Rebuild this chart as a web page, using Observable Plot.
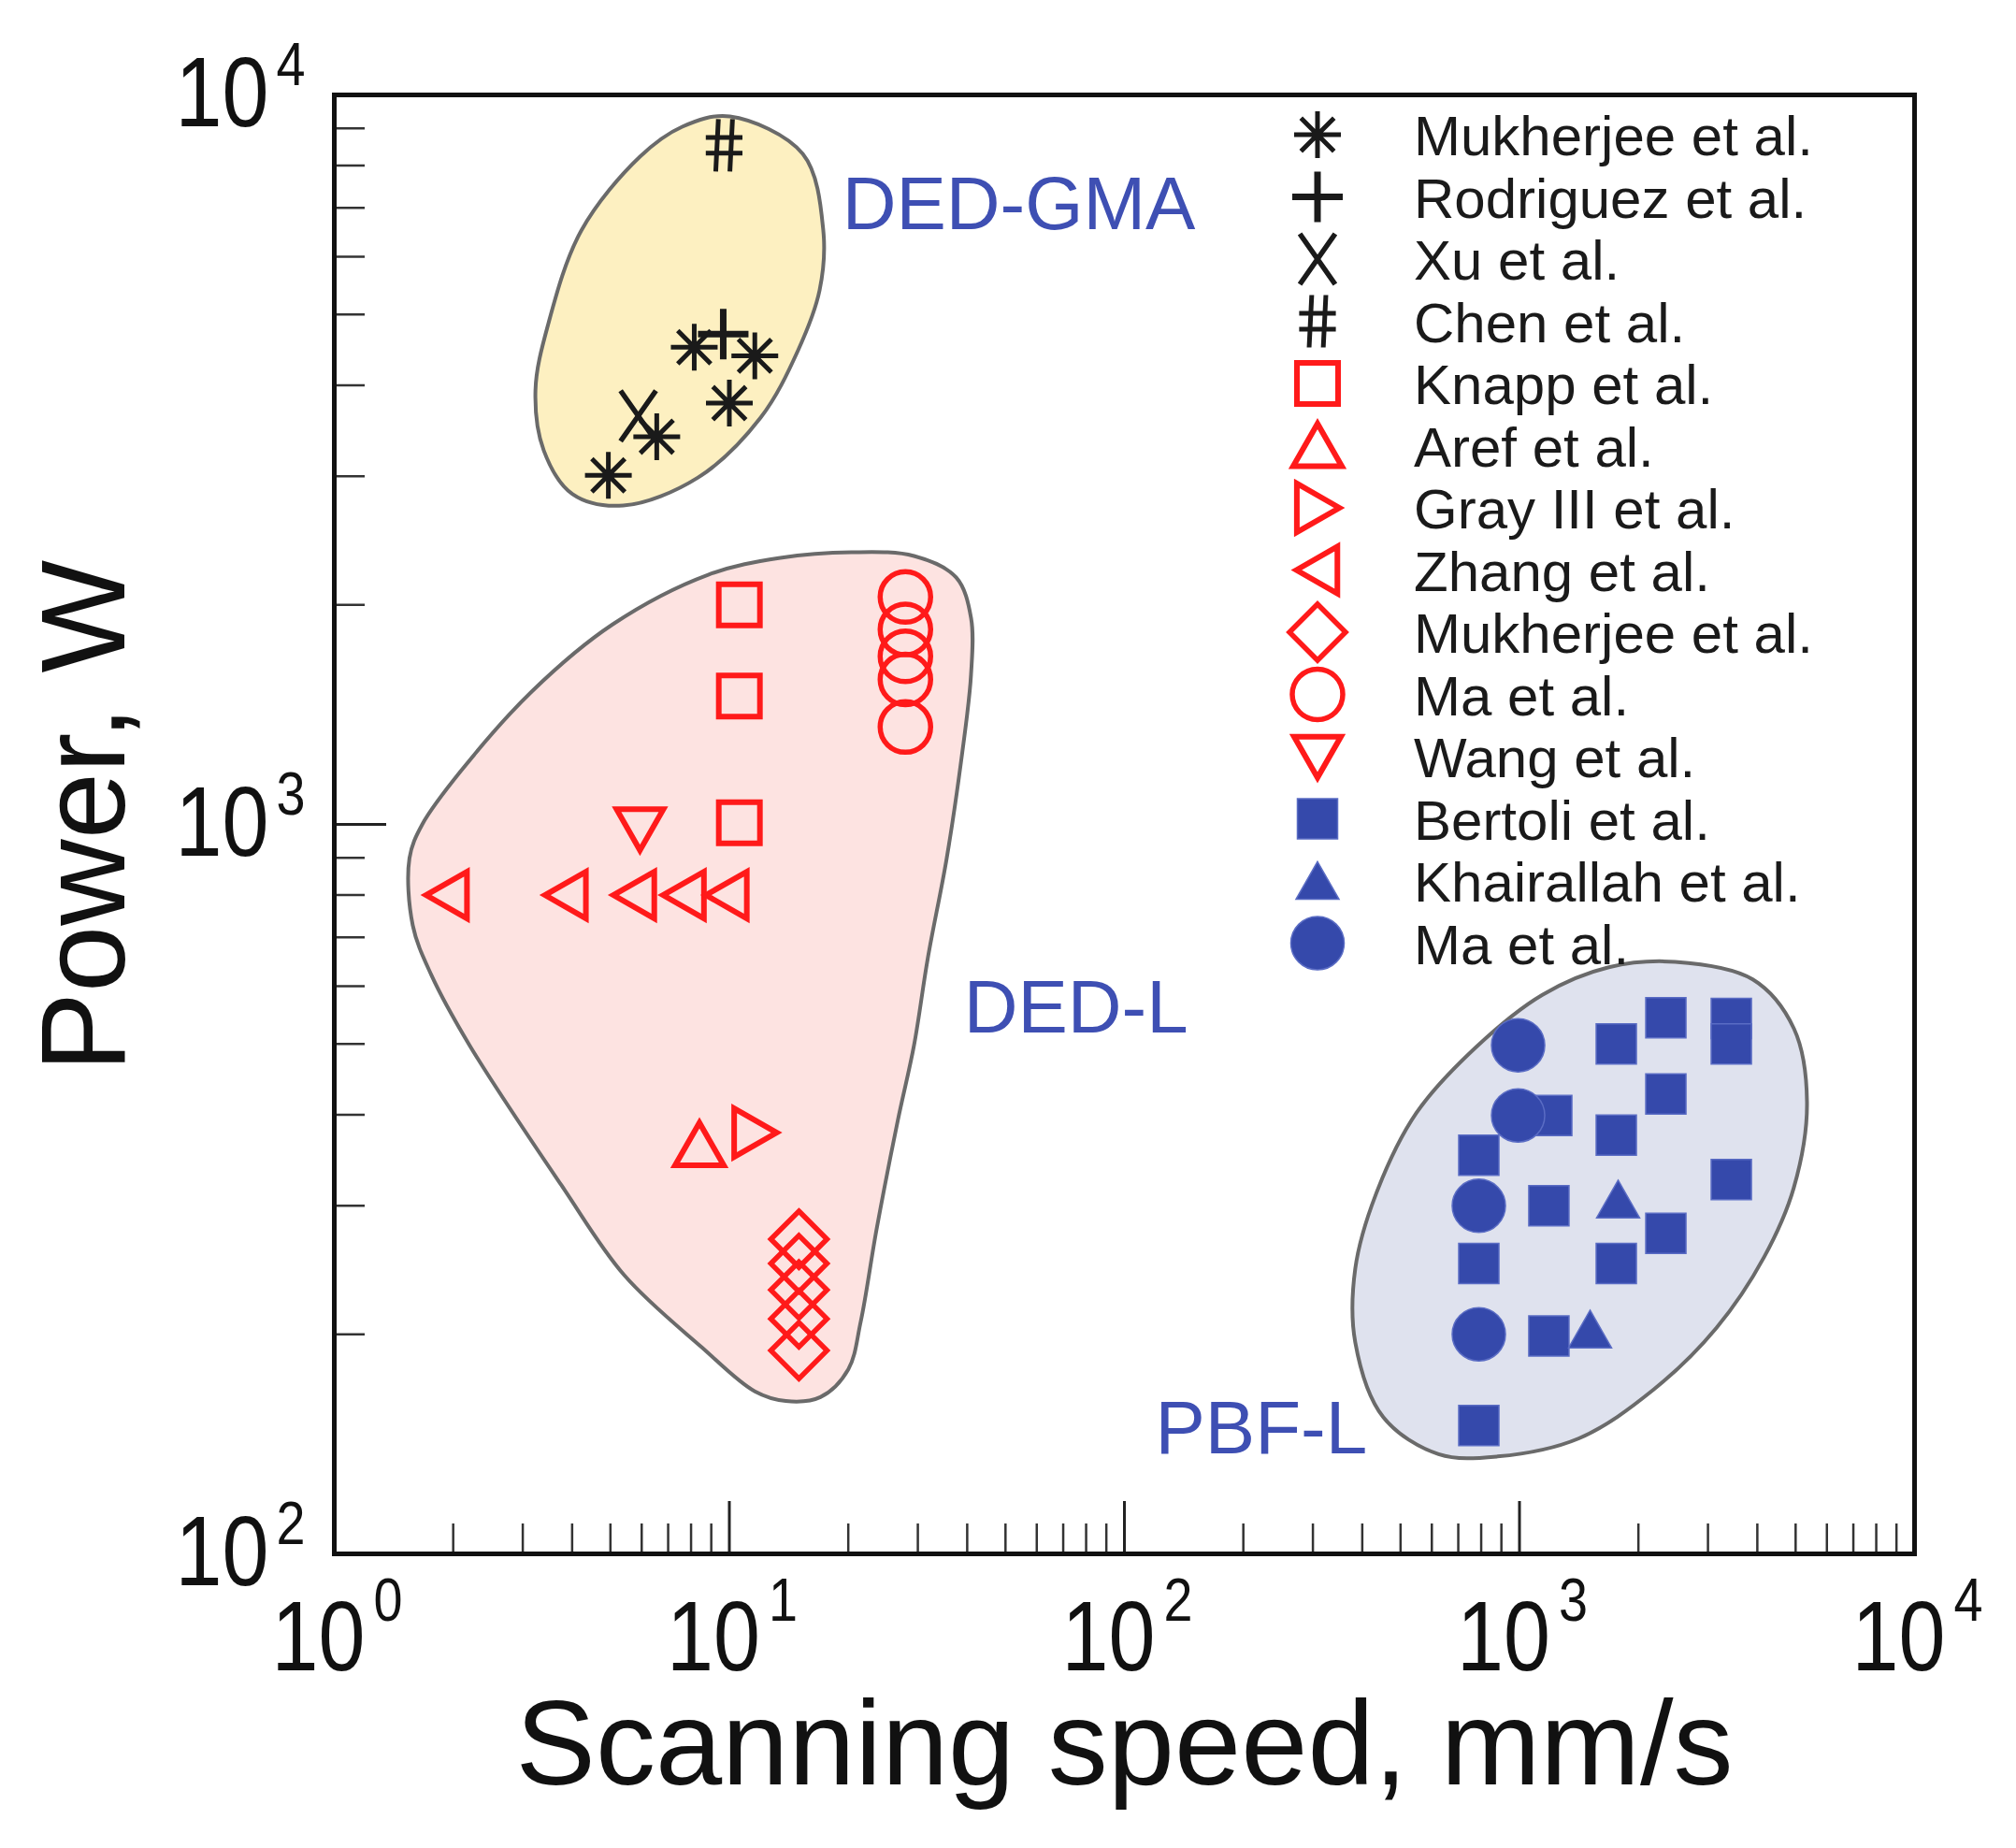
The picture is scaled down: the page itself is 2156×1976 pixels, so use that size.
<!DOCTYPE html>
<html><head><meta charset="utf-8">
<script src="https://cdn.jsdelivr.net/npm/d3@7"></script>
<script src="https://cdn.jsdelivr.net/npm/@observablehq/plot@0.6"></script>
<style>
html,body{margin:0;padding:0;background:#fff;}
#chart svg{display:block;}
</style></head><body><div id="chart"></div>
<script>
// ---------------- data (speed in mm/s, power in W) ----------------
// DED-GMA
const gmaMukherjeeSpeed = [8.15, 11.6, 10.0, 6.55, 4.94];
const gmaMukherjeePower = [4510, 4390, 3780, 3400, 3010];
const rodriguezSpeed = [9.65];
const rodriguezPower = [4700];
const xuSpeed = [5.88];
const xuPower = [3630];
const chenSpeed = [9.7];
const chenPower = [8530];
// DED-L
const knappSpeed = [10.6, 10.6, 10.6];
const knappPower = [2000, 1500, 1005];
const arefSpeed = [8.4];
const arefPower = [364];
const graySpeed = [11.6];
const grayPower = [378];
const zhangSpeed = [1.93, 3.86, 5.75, 7.68, 9.86];
const zhangPower = [800, 800, 800, 800, 800];
const lMukherjeeSpeed = [15, 15, 15, 15, 15];
const lMukherjeePower = [270, 250, 230, 210, 190];
const lMaSpeed = [27.9, 27.9, 27.9, 27.9, 27.9];
const lMaPower = [2050, 1850, 1700, 1580, 1360];
const wangSpeed = [5.94];
const wangPower = [985];
// PBF-L
const bertoliSpeed = [1758, 2347, 3437, 3437, 2347, 1758, 1207, 789, 1187, 3437, 2347, 1758, 789, 1187, 789];
const bertoliPower = [500, 543, 542, 500, 427, 375, 399, 352, 300, 326, 275, 250, 250, 199, 150];
const khairallahSpeed = [1777, 1509];
const khairallahPower = [306, 203];
const pbfMaSpeed = [992, 992, 789, 789];
const pbfMaPower = [498, 399, 300, 200];

// region outlines
const gmaOutlineSpeed = [10.03, 15.34, 17.29, 16.92, 14.93, 12.0, 8.33, 5.39, 4.01, 3.39, 3.23, 3.48, 4.22, 5.94, 7.60];
const gmaOutlinePower = [9344, 8303, 6518, 5397, 4467, 3611, 2989, 2736, 2836, 3256, 3935, 4852, 6518, 8230, 9046];
const dedOutlineSpeed = [13.46, 20.37, 29.34, 37.5, 40.9, 40.9, 38.7, 35.5, 31.8, 29.34, 26.7, 23.6, 21.5, 20.0, 17.0, 13.9, 11.6, 8.51, 5.42, 3.76, 2.20, 1.76, 1.58, 1.55, 1.67, 2.09, 3.16, 5.07, 8.84];
const dedOutlinePower = [2320, 2361, 2333, 2181, 1920, 1604, 1233, 899, 656, 498, 393, 279, 208, 179, 164, 162, 167, 192, 241, 320, 498, 622, 727, 899, 1000, 1183, 1521, 1881, 2199];
const pbfOutlineSpeed = [2477, 3895, 4950, 5343, 4950, 4158, 3150, 2186, 1414, 880, 624, 452, 384, 384, 433, 548, 776, 1143, 1683];
const pbfOutlinePower = [648, 613, 525, 416, 318, 255, 204, 168, 144, 136, 137, 154, 195, 246, 311, 402, 495, 584, 637];

// labels
const regionLabels = ["DED-GMA", "DED-L", "PBF-L"];
const regionLabelSpeed = [19.3, 39.2, 119.7];
const regionLabelPower = [7060, 559, 148];
const xTickValues = [1, 10, 100, 1000, 10000];
const yTickValues = [100, 1000, 10000];
const xTitle = "Scanning speed, mm/s";
const yTitle = "Power, W";

// ---------------- symbols ----------------
const S = (f) => ({draw(c, size) { f(c, Math.sqrt(size / Math.PI)); }});
const symSquare = S((c,h)=>{c.moveTo(-h,-h);c.lineTo(h,-h);c.lineTo(h,h);c.lineTo(-h,h);c.closePath();});
const symCircle = S((c,h)=>{c.moveTo(h,0);c.arc(0,0,h,0,2*Math.PI);c.closePath();});
const symTriUp = S((c,h)=>{c.moveTo(0,-0.9*h);c.lineTo(h,0.85*h);c.lineTo(-h,0.85*h);c.closePath();});
const symTriDown = S((c,h)=>{c.moveTo(0,0.9*h);c.lineTo(h,-0.85*h);c.lineTo(-h,-0.85*h);c.closePath();});
const symTriLeft = S((c,h)=>{c.moveTo(-0.9*h,0);c.lineTo(0.85*h,-h);c.lineTo(0.85*h,h);c.closePath();});
const symTriRight = S((c,h)=>{c.moveTo(0.9*h,0);c.lineTo(-0.85*h,-h);c.lineTo(-0.85*h,h);c.closePath();});
const symDiamond = S((c,h)=>{c.moveTo(0,-h);c.lineTo(h,0);c.lineTo(0,h);c.lineTo(-h,0);c.closePath();});
const symAsterisk = S((c,h)=>{const d=h*0.7071;c.moveTo(0,-h);c.lineTo(0,h);c.moveTo(-h,0);c.lineTo(h,0);c.moveTo(-d,-d);c.lineTo(d,d);c.moveTo(d,-d);c.lineTo(-d,d);});
const symPlus = S((c,h)=>{c.moveTo(0,-h);c.lineTo(0,h);c.moveTo(-h,0);c.lineTo(h,0);});
const symX = S((c,h)=>{c.moveTo(-0.7*h,-h);c.lineTo(0.7*h,h);c.moveTo(0.7*h,-h);c.lineTo(-0.7*h,h);});
const symHash = S((c,h)=>{c.moveTo(-0.22*h,-h);c.lineTo(-0.32*h,h);c.moveTo(0.32*h,-h);c.lineTo(0.22*h,h);c.moveTo(-0.7*h,-0.3*h);c.lineTo(0.7*h,-0.3*h);c.moveTo(-0.7*h,0.3*h);c.lineTo(0.7*h,0.3*h);});

const RED = "#ff1a1a", BLUE = "#3549ab", BLACK = "#1a1a1a";

const series = [
  {name: "Mukherjee et al.", speed: gmaMukherjeeSpeed, power: gmaMukherjeePower, symbol: symAsterisk, r: 25, fill: "none", stroke: BLACK, sw: 5},
  {name: "Rodriguez et al.", speed: rodriguezSpeed, power: rodriguezPower, symbol: symPlus, r: 27, fill: "none", stroke: BLACK, sw: 7},
  {name: "Xu et al.", speed: xuSpeed, power: xuPower, symbol: symX, r: 27, fill: "none", stroke: BLACK, sw: 5.5},
  {name: "Chen et al.", speed: chenSpeed, power: chenPower, symbol: symHash, r: 28, fill: "none", stroke: BLACK, sw: 5},
  {name: "Knapp et al.", speed: knappSpeed, power: knappPower, symbol: symSquare, r: 22, fill: "none", stroke: RED, sw: 6},
  {name: "Aref et al.", speed: arefSpeed, power: arefPower, symbol: symTriUp, r: 26, fill: "none", stroke: RED, sw: 6},
  {name: "Gray III et al.", speed: graySpeed, power: grayPower, symbol: symTriRight, r: 26, fill: "none", stroke: RED, sw: 6},
  {name: "Zhang et al.", speed: zhangSpeed, power: zhangPower, symbol: symTriLeft, r: 25, fill: "none", stroke: RED, sw: 6},
  {name: "Mukherjee et al.", speed: lMukherjeeSpeed, power: lMukherjeePower, symbol: symDiamond, r: 30, fill: "none", stroke: RED, sw: 5.5},
  {name: "Ma et al.", speed: lMaSpeed, power: lMaPower, symbol: symCircle, r: 27, fill: "none", stroke: RED, sw: 5.5},
  {name: "Wang et al.", speed: wangSpeed, power: wangPower, symbol: symTriDown, r: 25, fill: "none", stroke: RED, sw: 6},
  {name: "Bertoli et al.", speed: bertoliSpeed, power: bertoliPower, symbol: symSquare, r: 21.5, fill: BLUE, stroke: "#5a6cc4", sw: 1.5},
  {name: "Khairallah et al.", speed: khairallahSpeed, power: khairallahPower, symbol: symTriUp, r: 23, fill: BLUE, stroke: "#5a6cc4", sw: 1.5},
  {name: "Ma et al.", speed: pbfMaSpeed, power: pbfMaPower, symbol: symCircle, r: 28.5, fill: BLUE, stroke: "#5a6cc4", sw: 1.5}
];

const regions = [
  {speed: gmaOutlineSpeed, power: gmaOutlinePower, fill: "#fdf0c1"},
  {speed: dedOutlineSpeed, power: dedOutlinePower, fill: "#fde3e1"},
  {speed: pbfOutlineSpeed, power: pbfOutlinePower, fill: "#dfe2ee"}
];

const minorX = [];
for (const d of [1, 10, 100, 1000]) for (let k = 2; k <= 9; k++) minorX.push(d * k);
const minorY = [];
for (const d of [100, 1000]) for (let k = 2; k <= 9; k++) minorY.push(d * k);

// narrow face for the tick labels, if installed
function hasFont(name) {
  const c = document.createElement("canvas").getContext("2d");
  c.font = "100px monospace";
  const w0 = c.measureText("10 Wgil").width;
  c.font = `100px '${name}', monospace`;
  return Math.abs(c.measureText("10 Wgil").width - w0) > 0.5;
}
const narrowOK = hasFont("Liberation Sans Narrow");
const tickFont = narrowOK ? "'Liberation Sans Narrow', 'Liberation Sans', Arial, sans-serif" : "'Liberation Sans', Arial, sans-serif";

const W = 2156, H = 1976;
const mL = 357, mR = 109, mT = 101, mB = 315;
const plotW = W - mL - mR, plotH = H - mT - mB;
const exp10 = d => String(Math.round(Math.log10(d)));

const marks = [];
for (const r of regions) {
  marks.push(Plot.line(r.speed, {x: r.speed, y: r.power, curve: "catmull-rom-closed", fill: r.fill, stroke: "#6a6a6a", strokeWidth: 4}));
}
for (const s of series) {
  marks.push(Plot.dot(s.speed, {x: s.speed, y: s.power, symbol: s.symbol, r: s.r, fill: s.fill, stroke: s.stroke, strokeWidth: s.sw, strokeLinejoin: "miter", strokeLinecap: "butt"}));
}
marks.push(Plot.text(regionLabels, {x: regionLabelSpeed, y: regionLabelPower, text: d => d, textAnchor: "start", fontSize: 80, fill: "#3e4fb3"}));
// inward ticks
marks.push(Plot.tickX(minorX, {x: d => d, insetTop: plotH - 32, stroke: "#333", strokeWidth: 2.5}));
marks.push(Plot.tickX([10, 100, 1000], {x: d => d, insetTop: plotH - 56, stroke: "#222", strokeWidth: 3}));
marks.push(Plot.tickY(minorY, {y: d => d, insetRight: plotW - 33, stroke: "#333", strokeWidth: 2.5}));
marks.push(Plot.tickY([1000], {y: d => d, insetRight: plotW - 56, stroke: "#222", strokeWidth: 3}));
// tick labels: "10" and the exponent as separate texts
marks.push(Plot.axisX(xTickValues, {tickSize: 0, tickPadding: 49, tickFormat: () => "10", textAnchor: "end", dx: 33, fontSize: 106, fontFamily: tickFont, fill: "#111", label: null}));
marks.push(Plot.axisX(xTickValues, {tickSize: 0, tickPadding: 26, tickFormat: exp10, textAnchor: "start", dx: 42, fontSize: 64, fontFamily: tickFont, fill: "#111", label: null}));
marks.push(Plot.axisY(yTickValues, {tickSize: 0, tickPadding: 70, tickFormat: () => "10", fontSize: 106, fontFamily: tickFont, fill: "#111", label: null}));
marks.push(Plot.axisY(yTickValues, {tickSize: 0, tickPadding: 62, tickFormat: exp10, textAnchor: "start", dy: -31, fontSize: 64, fontFamily: tickFont, fill: "#111", label: null}));
// titles
marks.push(Plot.text([xTitle], {frameAnchor: "bottom", text: d => d, dy: 206, fontSize: 128, fill: "#111", textAnchor: "middle", lineAnchor: "middle"}));
marks.push(Plot.text([yTitle], {frameAnchor: "left", text: d => d, dx: -265, dy: -9, rotate: -90, fontSize: 128, fill: "#111", textAnchor: "middle", lineAnchor: "middle"}));
marks.push(Plot.frame({stroke: "#111", strokeWidth: 5}));

const svg = Plot.plot({
  width: W, height: H,
  marginLeft: mL, marginRight: mR, marginTop: mT, marginBottom: mB,
  style: {fontFamily: "'Liberation Sans', Arial, Helvetica, sans-serif", background: "#fff", color: "#111"},
  x: {type: "log", domain: [1, 10000]},
  y: {type: "log", domain: [100, 10000]},
  marks
});

// put anchor / size / font straight on each text element
svg.querySelectorAll("g").forEach(g => {
  const ta = g.getAttribute("text-anchor"), fs = g.getAttribute("font-size"), ff = g.getAttribute("font-family");
  g.querySelectorAll(":scope > text").forEach(t => {
    if (ta && !t.getAttribute("text-anchor")) t.setAttribute("text-anchor", ta);
    if (fs && !t.getAttribute("font-size")) t.setAttribute("font-size", fs);
    if (ff && !t.getAttribute("font-family")) t.setAttribute("font-family", ff);
  });
});

// without the narrow face, condense the tick label glyphs instead
if (!narrowOK) {
  svg.querySelectorAll('g[aria-label$="tick label"]').forEach(g => {
    const fs = +g.getAttribute("font-size");
    g.querySelectorAll("text").forEach(t => {
      t.setAttribute("textLength", fs > 80 ? "100" : "31");
      t.setAttribute("lengthAdjust", "spacingAndGlyphs");
    });
  });
}

// legend
const lg = d3.select(svg).append("g").attr("aria-label", "legend").attr("text-anchor", "start");
const legX = 1409, legTextX = 1512, legY0 = 144, legStep = 66.5;
series.forEach((s, i) => {
  const y = legY0 + legStep * i;
  lg.append("path")
    .attr("transform", `translate(${legX},${y})`)
    .attr("d", d3.symbol(s.symbol, Math.PI * s.r * s.r)())
    .attr("fill", s.fill).attr("stroke", s.stroke).attr("stroke-width", s.sw)
    .attr("stroke-linejoin", "miter");
  lg.append("text")
    .attr("x", legTextX).attr("y", y + 22)
    .attr("text-anchor", "start")
    .attr("font-size", 60).attr("fill", "#1a1a1a")
    .text(s.name);
});

document.getElementById("chart").appendChild(svg);
</script></body></html>
